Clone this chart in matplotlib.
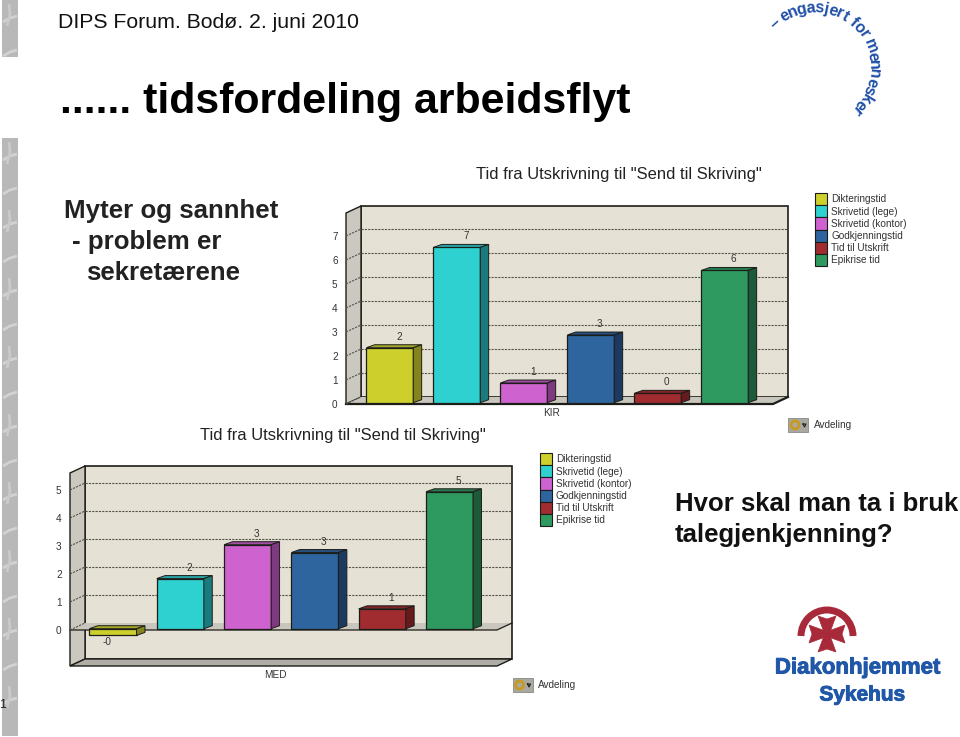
import numpy as np
import matplotlib
matplotlib.use("Agg")
import matplotlib.pyplot as plt
import matplotlib.patheffects as pe
from matplotlib.patches import Polygon, Rectangle, Patch, Arc, Circle
from matplotlib.textpath import TextPath
from matplotlib.font_manager import FontProperties

plt.rcParams['font.family'] = ['Liberation Sans', 'DejaVu Sans']

W = 960
H = 737

categories = ["Dikteringstid", "Skrivetid (lege)", "Skrivetid (kontor)", "Godkjenningstid", "Tid til Utskrift", "Epikrise tid"]
kirValues = [2.29, 6.47, 0.82, 2.82, 0.39, 5.51]
kirLabels = ["2", "7", "1", "3", "0", "6"]
medValues = [-0.24, 1.79, 3.0, 2.72, 0.71, 4.89]
medLabels = ["-0", "2", "3", "3", "1", "5"]
chartTitle = 'Tid fra Utskrivning til "Send til Skriving"'

front = ["#cdd02c", "#2fd0d0", "#ce62ce", "#2f659f", "#a02c30", "#2f9a60"]
side = ["#83851c", "#1a7b7e", "#7d3a80", "#1c3a5f", "#651a1d", "#1c5a3a"]
topc = ["#a5a826", "#27a3a5", "#a04ea3", "#27507f", "#802428", "#267a4d"]

WALL = "#e6e1d5"
SIDEWALL = "#cbc8c0"
FLOOR = "#c9c6bd"
BASE = "#b0ada6"
EDGE = "#1c1c18"
TXT = "#333333"

fig = plt.figure(figsize=(W / 100, H / 100), dpi=100, facecolor="white")

# slide background in pixel coordinates
bg = fig.add_axes([0, 0, 1, 1])
bg.set_xlim(0, W)
bg.set_ylim(H, 0)
bg.axis("off")


def drawStripe(y0, y1):
    bg.add_patch(Rectangle((2, y0), 16, y1 - y0, fc="#b8b8b8", ec="none"))
    for y in np.arange(y0 + 14, y1 - 6, 34):
        bg.plot([3, 10, 17], [y + 8, y + 4, y + 2], color="#d2d2d2", lw=2, solid_capstyle="butt")
    for y in np.arange(y0 + 4, y1 - 20, 68):
        bg.plot([7, 10, 9], [y + 22, y + 10, y], color="#cacaca", lw=2, solid_capstyle="butt")


drawStripe(0, 57)
drawStripe(138, 736)

bg.text(58, 22, "DIPS Forum. Bodø. 2. juni 2010", fontsize=15.3, color="#111111", va="center")
bg.text(60, 102, "...... tidsfordeling arbeidsflyt", fontsize=30.9, fontweight="bold", color="black", va="center")
bg.text(64, 211, "Myter og sannhet", fontsize=18.6, fontweight="bold", color="#222222", va="center")
bg.text(72, 242, "- problem er", fontsize=18.6, fontweight="bold", color="#222222", va="center")
bg.text(86, 273, "sekretærene", fontsize=18.6, fontweight="bold", color="#222222", va="center")
bg.text(675, 504, "Hvor skal man ta i bruk", fontsize=18.5, fontweight="bold", color="#111111", va="center")
bg.text(675, 535, "talegjenkjenning?", fontsize=18.5, fontweight="bold", color="#111111", va="center")
bg.text(3, 705, "1", fontsize=9, color="#222222", ha="center", va="center")

# curved slogan, top right, letters spaced by their width
slogan = "– engasjert for mennesker"
fp = FontProperties(family="Liberation Sans", weight="bold", size=11.5)
widths = []
for ch in slogan:
    widths.append(3.5 if ch == " " else TextPath((0, 0), ch, prop=fp).get_extents().width + 1.5)
widths = np.array(widths)
mids = np.cumsum(widths) - widths / 2
angles = 137 - 187 * mids / widths.sum()
for ch, a in zip(slogan, angles):
    px = 815 + 59 * np.cos(np.radians(a))
    py = 67 - 59 * np.sin(np.radians(a))
    bg.text(px, py, ch, fontsize=11.5, fontweight="bold", color="#1f4fa8",
            rotation=a - 90, rotation_mode="anchor", ha="center", va="center")

# logo, bottom right
bg.add_patch(Arc((827, 636), 52, 52, theta1=180, theta2=360, color="#a82a3a", lw=5))
arm = np.array([(-3.5, 3), (-9, 18), (0, 15), (9, 18), (3.5, 3)], dtype=float)
for a in [0, 90, 180, 270]:
    c, s = np.cos(np.radians(a)), np.sin(np.radians(a))
    rot = np.column_stack([arm[:, 0] * c - arm[:, 1] * s, arm[:, 0] * s + arm[:, 1] * c])
    bg.add_patch(Polygon(rot + [827, 634], fc="#a82a3a", ec="#a82a3a", lw=0.5))
bg.add_patch(Circle((827, 634), 5, fc="#a82a3a", ec="none"))
stroke = [pe.withStroke(linewidth=0.7, foreground="#2057a8")]
bg.text(857.5, 668, "Diakonhjemmet", fontsize=16, fontweight="bold", color="#2057a8", ha="center", va="center", path_effects=stroke)
bg.text(862.5, 695, "Sykehus", fontsize=15, fontweight="bold", color="#2057a8", ha="center", va="center", path_effects=stroke)


def drawChart(values, labels, xLeft, xRight, y0, unit, center0, pitch, yTop, yBottom, ticks, group, titlePos, legendPos, iconPos):
    # axes is the front plane of the 3d box
    yMin = (y0 - yBottom) / unit
    yMax = (y0 - yTop) / unit
    ax = fig.add_axes([xLeft / W, 1 - yBottom / H, (xRight - xLeft) / W, (yBottom - yTop) / H])
    ax.set_xlim((xLeft - center0) / pitch, (xRight - center0) / pitch)
    ax.set_ylim(yMin, yMax)
    ax.patch.set_visible(False)
    for sp in ax.spines.values():
        sp.set_visible(False)

    x0, x1 = ax.get_xlim()
    dx = 15 / pitch
    dy = 7 / unit
    bx = 8.4 / pitch
    by = 3 / unit
    lift = 1.3 / unit

    # walls
    ax.add_patch(Polygon([(x0 + dx, yMin + dy), (x1 + dx, yMin + dy), (x1 + dx, yMax), (x0 + dx, yMax)],
                         fc=WALL, ec=EDGE, lw=1.2, clip_on=False, zorder=1))
    ax.add_patch(Polygon([(x0, yMin), (x0 + dx, yMin + dy), (x0 + dx, yMax), (x0, yMax - dy)],
                         fc=SIDEWALL, ec=EDGE, lw=1.0, clip_on=False, zorder=1.1))
    if yMin < 0:
        ax.add_patch(Polygon([(x0, yMin), (x1, yMin), (x1 + dx, yMin + dy), (x0 + dx, yMin + dy)],
                             fc=BASE, ec=EDGE, lw=1.0, clip_on=False, zorder=1.1))
    ax.add_patch(Polygon([(x0, 0), (x1, 0), (x1 + dx, dy), (x0 + dx, dy)],
                         fc=FLOOR, ec="none", clip_on=False, zorder=1.2))
    ax.plot([x0, x1, x1 + dx], [0, 0, dy], color=EDGE, lw=1.6 if yMin == 0 else 0.9, clip_on=False, zorder=1.3)

    # grid on back wall and left wall
    for t in ticks:
        if t == 0:
            continue
        ax.plot([x0 + dx, x1 + dx], [t + dy, t + dy], color="#55554e", lw=0.8, ls=(0, (2, 1)), clip_on=False, zorder=1.4)
    for t in ticks:
        ax.plot([x0, x0 + dx], [t, t + dy], color="#55554e", lw=0.8, ls=(0, (2, 1)), clip_on=False, zorder=1.4)

    # bars
    for i, v in enumerate(values):
        ax.bar(i, v, width=0.7, bottom=lift, color=front[i], edgecolor=EDGE, linewidth=0.9, zorder=3, clip_on=False)
        l = i - 0.35
        r = i + 0.35
        hi = max(v, 0) + lift
        lo = min(v, 0) + lift
        ax.add_patch(Polygon([(l, hi), (r, hi), (r + bx, hi + by), (l + bx, hi + by)],
                             fc=topc[i], ec=EDGE, lw=0.7, zorder=3, clip_on=False))
        ax.add_patch(Polygon([(r, lo), (r + bx, lo + by), (r + bx, hi + by), (r, hi)],
                             fc=side[i], ec=EDGE, lw=0.7, zorder=3, clip_on=False))
        if v >= 0:
            ax.annotate(labels[i], (i, hi), xytext=(9, 11), textcoords="offset pixels",
                        ha="center", va="center", fontsize=7.2, color=TXT, zorder=4)
        else:
            ax.annotate(labels[i], (i, lo), xytext=(-6, -7), textcoords="offset pixels",
                        ha="center", va="center", fontsize=7.2, color=TXT, zorder=4)

    ax.set_yticks(ticks)
    ax.set_yticklabels([str(t) for t in ticks], fontsize=7.2, color=TXT)
    ax.set_xticks([2.42])
    ax.set_xticklabels([group], fontsize=7.2, color=TXT)
    ax.tick_params(axis="y", length=0, pad=6)
    ax.tick_params(axis="x", length=0, pad=3)

    bg.text(titlePos[0], titlePos[1], chartTitle, fontsize=11.9, color="#222222", ha="center", va="center")

    # legend
    handles = [Patch(fc=front[i], ec=EDGE, lw=0.8, label=categories[i]) for i in range(len(categories))]
    leg = ax.legend(handles=handles, loc="upper left", bbox_to_anchor=(legendPos[0] / W, 1 - legendPos[1] / H),
                    bbox_transform=fig.transFigure, frameon=False, fontsize=7.2, borderpad=0, borderaxespad=0,
                    labelspacing=0.0, handlelength=1.2, handleheight=1.5, handletextpad=0.4)
    for t in leg.get_texts():
        t.set_color(TXT)

    # Avdeling button
    ix, iy = iconPos
    bg.add_patch(Rectangle((ix, iy), 20, 14, fc="#a9a9a2", ec="#8a8a84", lw=0.6))
    bg.add_patch(Circle((ix + 7, iy + 7), 4, fc="none", ec="#c89a20", lw=2))
    bg.plot([ix + 15, ix + 18, ix + 16.5, ix + 15], [iy + 6, iy + 6, iy + 9, iy + 6], color="#222222", lw=0.8)
    bg.text(ix + 25.5, iy + 6.5, "Avdeling", fontsize=7.2, color=TXT, va="center")


drawChart(kirValues, kirLabels, 346, 773, 404, 24.0, 389.8, 67.0, 206, 404,
          [0, 1, 2, 3, 4, 5, 6, 7], "KIR", (619, 174), (815, 193), (788, 418))
drawChart(medValues, medLabels, 70, 497, 630, 28.0, 113.0, 67.3, 466, 666,
          [0, 1, 2, 3, 4, 5], "MED", (342.5, 435), (540, 453), (512.5, 678))

fig.savefig("out.png", dpi=100)
